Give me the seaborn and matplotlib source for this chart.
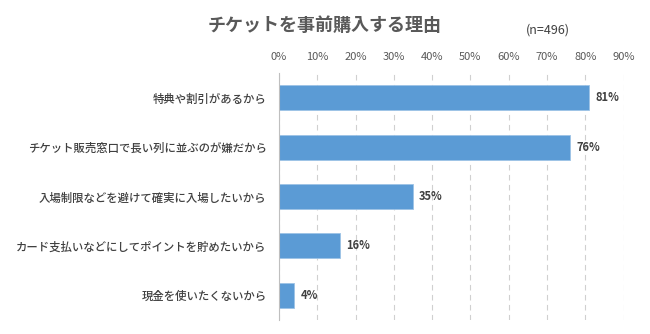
import matplotlib
matplotlib.use("Agg")
import matplotlib.pyplot as plt
import seaborn as sns
import pandas as pd

categories = ["特典や割引があるから",
              "チケット販売窓口で長い列に並ぶのが嫌だから",
              "入場制限などを避けて確実に入場したいから",
              "カード支払いなどにしてポイントを貯めたいから",
              "現金を使いたくないから"]
values = [81, 76, 35, 16, 4]
tick_values = [0, 10, 20, 30, 40, 50, 60, 70, 80, 90]
tick_labels = [f"{v}%" for v in tick_values]

sns.set_theme(style="white")
plt.rcParams['font.family'] = ['Noto Sans CJK JP', 'DejaVu Sans']

df = pd.DataFrame({"cat": categories, "val": values})

fig = plt.figure(figsize=(6.5, 3.34), dpi=100)
ax = fig.add_axes([279/650, 1-320/334, (623.5-279)/650, (320-73)/334])

sns.barplot(data=df, x="val", y="cat", color="#5B9BD5", width=0.51,
            edgecolor="#9DC3E6", linewidth=0.6, ax=ax, saturation=1)

ax.set_xlim(0, 90)
ax.set_xticks(tick_values)
ax.set_xticklabels(tick_labels, fontsize=8, color="#595959")
ax.xaxis.tick_top()
ax.tick_params(axis="x", length=0, pad=8)
ax.tick_params(axis="y", length=0, pad=9, labelsize=8.2, labelcolor="#404040")
for lbl in ax.get_yticklabels():
    lbl.set_fontweight("medium")
ax.set_xlabel("")
ax.set_ylabel("")
ax.grid(axis="x", linestyle=(0, (5, 4)), color="#D0D0D0", linewidth=0.8)
ax.set_axisbelow(True)
for s in ["top", "right", "bottom"]:
    ax.spines[s].set_visible(False)
ax.spines["left"].set_color("#BFBFBF")
ax.spines["left"].set_linewidth(0.8)

for i, v in enumerate(values):
    ax.text(v + 1.6, i, f"{v}%", va="center", ha="left", fontsize=8,
            fontweight="bold", color="#404040")

fig.text(325/650, 1-25/334, "チケットを事前購入する理由", ha="center", va="center",
         fontsize=13, fontweight="bold", color="#595959")
fig.text(548/650, 1-30/334, "(n=496)", ha="center", va="center",
         fontsize=9, color="#404040")

fig.savefig("out.png", dpi=100)
